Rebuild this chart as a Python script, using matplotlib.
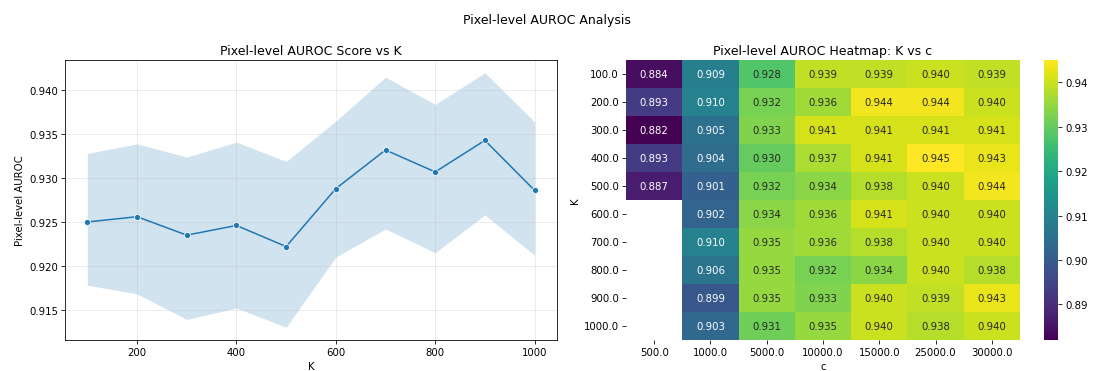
import numpy as np
import matplotlib
matplotlib.use("Agg")
import matplotlib.pyplot as plt
import seaborn as sns

# Mean pixel-level AUROC per K, with the lower/upper bounds of its confidence band
k_values = [100, 200, 300, 400, 500, 600, 700, 800, 900, 1000]
auroc_mean = [0.9250, 0.9256, 0.9235, 0.9246, 0.9222, 0.9288, 0.9332, 0.9307, 0.9343, 0.9286]
auroc_low = [0.9178, 0.9168, 0.9139, 0.9152, 0.9130, 0.9210, 0.9242, 0.9215, 0.9258, 0.9212]
auroc_high = [0.9328, 0.9339, 0.9324, 0.9341, 0.9319, 0.9365, 0.9415, 0.9384, 0.9420, 0.9364]

# Heatmap grid: rows are K, columns are c (NaN = not evaluated)
k_labels = ["100.0", "200.0", "300.0", "400.0", "500.0",
            "600.0", "700.0", "800.0", "900.0", "1000.0"]
c_labels = ["500.0", "1000.0", "5000.0", "10000.0", "15000.0", "25000.0", "30000.0"]
nan = np.nan
auroc_grid = [
    [0.884, 0.909, 0.928, 0.939, 0.939, 0.940, 0.939],
    [0.893, 0.910, 0.932, 0.936, 0.944, 0.944, 0.940],
    [0.882, 0.905, 0.933, 0.941, 0.941, 0.941, 0.941],
    [0.893, 0.904, 0.930, 0.937, 0.941, 0.945, 0.943],
    [0.887, 0.901, 0.932, 0.934, 0.938, 0.940, 0.944],
    [nan,   0.902, 0.934, 0.936, 0.941, 0.940, 0.940],
    [nan,   0.910, 0.935, 0.936, 0.938, 0.940, 0.940],
    [nan,   0.906, 0.935, 0.932, 0.934, 0.940, 0.938],
    [nan,   0.899, 0.935, 0.933, 0.940, 0.939, 0.943],
    [nan,   0.903, 0.931, 0.935, 0.940, 0.938, 0.940],
]

plt.rcParams["font.family"] = ["DejaVu Sans"]
plt.rcParams["font.size"] = 10

DPI = 1094 / 15
fig = plt.figure(figsize=(15, 5.1), dpi=DPI)
fig.suptitle("Pixel-level AUROC Analysis", fontsize=12.4, y=0.944, va="center")

# Left: line with confidence band
ax1 = fig.add_axes([0.0594, 0.0833, 0.4497, 0.7527])
line_color = "#1f77b4"
ax1.fill_between(k_values, auroc_low, auroc_high, color=line_color, alpha=0.2, linewidth=0)
ax1.plot(k_values, auroc_mean, color=line_color, linewidth=1.5, marker="o",
         markersize=6, markeredgecolor="white", markeredgewidth=0.75)
ax1.set_title("Pixel-level AUROC Score vs K", fontsize=12.3, pad=5.5)
ax1.set_xlabel("K")
ax1.set_ylabel("Pixel-level AUROC")
ax1.set_yticks([0.915, 0.920, 0.925, 0.930, 0.935, 0.940])
ax1.yaxis.set_major_formatter(matplotlib.ticker.FormatStrFormatter("%.3f"))
ax1.set_xticks([200, 400, 600, 800, 1000])
ax1.grid(True, alpha=0.3)

# Right: heatmap of K vs c
ax2 = fig.add_axes([0.5722, 0.0833, 0.3601, 0.7527])
cax = fig.add_axes([0.9543, 0.0833, 0.0128, 0.7527])
sns.heatmap(np.array(auroc_grid), ax=ax2, cbar_ax=cax, cmap="viridis",
            annot=True, fmt=".3f", annot_kws={"fontsize": 10},
            xticklabels=c_labels, yticklabels=k_labels)
ax2.set_title("Pixel-level AUROC Heatmap: K vs c", fontsize=12.3, pad=5.5)
ax2.set_xlabel("c")
ax2.set_ylabel("K")
plt.setp(ax2.get_yticklabels(), rotation=0)
plt.setp(ax2.get_xticklabels(), rotation=0)

fig.savefig("out.png", dpi=DPI)
